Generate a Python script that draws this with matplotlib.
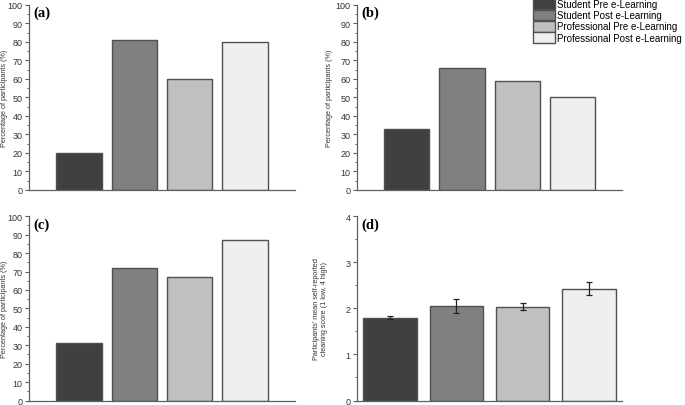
import matplotlib
matplotlib.use("Agg")
import matplotlib.pyplot as plt
from matplotlib.patches import Patch
from matplotlib.ticker import MultipleLocator

plt.rcParams['font.family'] = ['Liberation Sans', 'DejaVu Sans']

# Data
groups = ['Student Pre e-Learning', 'Student Post e-Learning',
          'Professional Pre e-Learning', 'Professional Post e-Learning']
colors = ['#404040', '#808080', '#c0c0c0', '#efefef']

pct_a = [20, 81, 60, 80]
pct_b = [33, 66, 59, 50]
pct_c = [31, 72, 67, 87]
score_d = [1.80, 2.05, 2.04, 2.43]
score_d_err = [0.04, 0.15, 0.085, 0.135]

edge = '#505050'
spine_col = '#606060'

fig = plt.figure(figsize=(6.85, 4.06), dpi=100)
ax_a = fig.add_axes([0.0423, 0.5296, 0.3883, 0.4557])
ax_b = fig.add_axes([0.5212, 0.5296, 0.3869, 0.4557])
ax_c = fig.add_axes([0.0423, 0.0110, 0.3883, 0.4540])
ax_d = fig.add_axes([0.5212, 0.0110, 0.3869, 0.4540])

x = [1, 2, 3, 4]


def style(ax, letter, ylabel, label_x):
    for s in ['top', 'right']:
        ax.spines[s].set_visible(False)
    for s in ['left', 'bottom']:
        ax.spines[s].set_color(spine_col)
        ax.spines[s].set_linewidth(0.9)
    ax.set_xticks([])
    ax.tick_params(axis='y', which='major', direction='out', length=3,
                   width=0.8, color=spine_col, labelsize=6.5,
                   labelcolor='#333333', pad=1.5)
    ax.tick_params(axis='y', which='minor', direction='out', length=1.8,
                   width=0.7, color=spine_col)
    ax.text(0.015, 0.995, letter, transform=ax.transAxes, ha='left', va='top',
            fontsize=10.5, fontweight='bold', family='Liberation Serif')
    ax.set_ylabel(ylabel, fontsize=5.2, color='#333333', linespacing=1.1)
    ax.yaxis.set_label_coords(label_x, 0.5)


for ax, vals, letter, lx in [(ax_a, pct_a, '(a)', -0.078),
                             (ax_b, pct_b, '(b)', -0.092),
                             (ax_c, pct_c, '(c)', -0.078)]:
    ax.bar(x, vals, width=0.82, color=colors, edgecolor=edge, linewidth=1.0)
    ax.set_xlim(0.1, 4.9)
    ax.set_ylim(0, 100)
    ax.yaxis.set_major_locator(MultipleLocator(10))
    ax.yaxis.set_minor_locator(MultipleLocator(5))
    style(ax, letter, 'Percentage of participants (%)', lx)

ax_d.bar(x, score_d, width=0.81, color=colors, edgecolor=edge, linewidth=1.0,
         yerr=score_d_err, capsize=2,
         error_kw=dict(ecolor='#222222', elinewidth=0.9, capthick=0.9))
ax_d.set_xlim(0.5, 4.5)
ax_d.set_ylim(0, 4)
ax_d.yaxis.set_major_locator(MultipleLocator(1))
ax_d.yaxis.set_minor_locator(MultipleLocator(0.5))
style(ax_d, '(d)', "Participants' mean self-reported\ncleaning score (1 low, 4 high)",
      -0.11)

handles = [Patch(facecolor=c, edgecolor=edge, linewidth=1.0) for c in colors]
fig.legend(handles, groups, loc='upper left', bbox_to_anchor=(0.776, 1.003),
           frameon=False, fontsize=7, handlelength=2.3, handleheight=1.3,
           handletextpad=0.25, labelspacing=0.05, borderaxespad=0.0,
           borderpad=0.1)

fig.savefig('out.png', dpi=100)
